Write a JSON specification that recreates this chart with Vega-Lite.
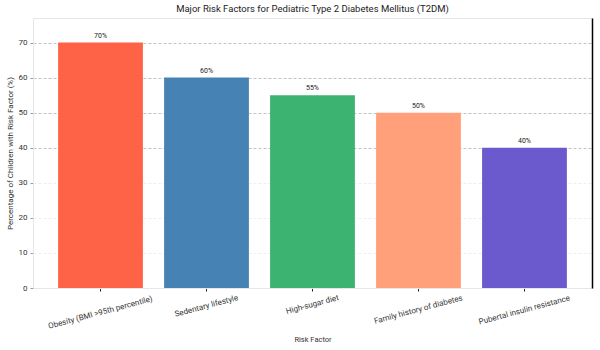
{
  "$schema": "https://vega.github.io/schema/vega-lite/v6.json",
  "width": 559,
  "height": 270,
  "autosize": {"type": "none"},
  "padding": {"left": 33, "top": 18, "right": 8, "bottom": 62},
  "title": {"text": "Major Risk Factors for Pediatric Type 2 Diabetes Mellitus (T2DM)", "fontSize": 9.5, "fontWeight": "normal", "font": "Roboto", "color": "#222", "offset": 5},
  "config": {
    "view": {"stroke": "#e6e6e6", "strokeWidth": 1},
    "axis": {"labelFont": "Roboto", "titleFont": "Roboto", "labelColor": "#333", "titleColor": "#333", "titleFontWeight": "normal"}
  },
  "data": {"values": [
    {"factor": "Obesity (BMI >95th percentile)", "pct": 70, "label": "70%", "color": "#FF6347"},
    {"factor": "Sedentary lifestyle", "pct": 60, "label": "60%", "color": "#4682B4"},
    {"factor": "High-sugar diet", "pct": 55, "label": "55%", "color": "#3CB371"},
    {"factor": "Family history of diabetes", "pct": 50, "label": "50%", "color": "#FFA07A"},
    {"factor": "Pubertal insulin resistance", "pct": 40, "label": "40%", "color": "#6A5ACD"}
  ]},
  "encoding": {
    "x": {"field": "factor", "type": "nominal", "sort": null,
      "scale": {"paddingInner": 0.2, "paddingOuter": 0.237},
      "axis": {"title": "Risk Factor", "titleFontSize": 7.5, "labelFontSize": 8, "labelAngle": -15, "labelAlign": "center", "labelBaseline": "middle",
        "labelPadding": {"condition": [
          {"test": "datum.value == 'Obesity (BMI >95th percentile)'", "value": 21.5},
          {"test": "datum.value == 'Sedentary lifestyle'", "value": 15},
          {"test": "datum.value == 'High-sugar diet'", "value": 13.5},
          {"test": "datum.value == 'Family history of diabetes'", "value": 18.5}
        ], "value": 19},
        "tickSize": 3, "tickColor": "#222", "domainColor": "#e6e6e6", "titlePadding": 5}}
  },
  "layer": [
    {
      "mark": {"type": "bar"},
      "encoding": {
        "y": {"field": "pct", "type": "quantitative", "scale": {"domain": [0, 77], "nice": false},
          "axis": {"title": "Percentage of Children with Risk Factor (%)", "titleFontSize": 8, "labelFontSize": 8, "values": [0,10,20,30,40,50,60,70], "tickSize": 3, "tickColor": "#999", "gridDash": [3, 2],
            "gridColor": {"condition": {"test": "datum.value >= 40", "value": "#c4c4c4"}, "value": "#eeeeee"},
            "domainColor": "#e6e6e6", "labelPadding": 3, "titlePadding": 4}},
        "color": {"field": "color", "type": "nominal", "scale": null}
      }
    },
    {
      "mark": {"type": "text", "dy": -7, "fontSize": 7, "font": "Roboto", "color": "#222"},
      "encoding": {
        "y": {"field": "pct", "type": "quantitative", "scale": {"domain": [0, 77], "nice": false},
          "axis": {"orient": "right", "title": null, "labels": false, "ticks": false, "grid": false, "domainColor": "#000", "domainWidth": 1.5}},
        "text": {"field": "label"}
      }
    }
  ],
  "resolve": {"axis": {"y": "independent"}}
}
